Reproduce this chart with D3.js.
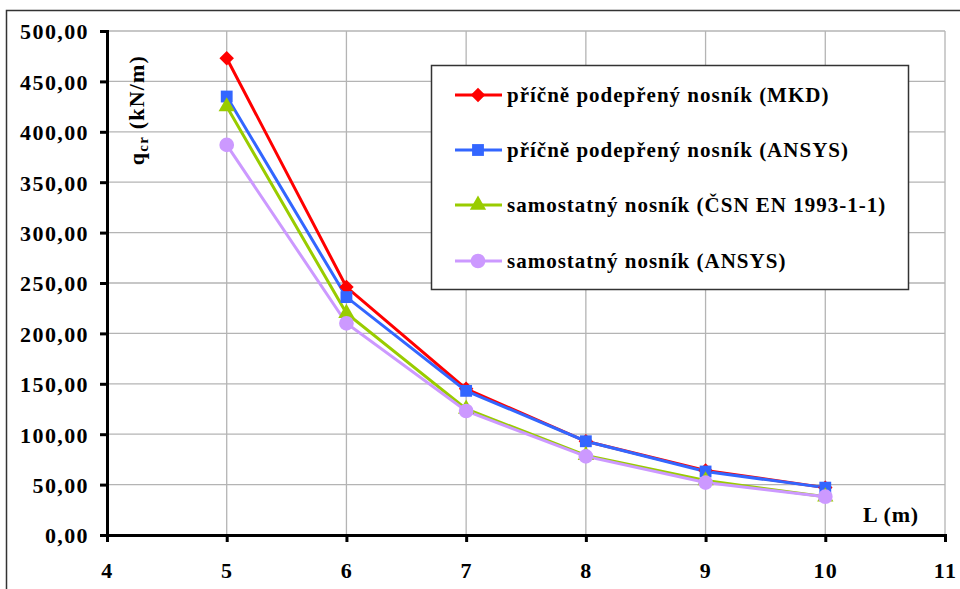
<!DOCTYPE html>
<html>
<head>
<meta charset="utf-8">
<script src="https://cdn.jsdelivr.net/npm/d3@7"></script>
<style>
  body { margin: 0; background: #fff; }
  svg { display: block; }
  svg text { font-family: "Times New Roman", Tinos, "Liberation Serif", "DejaVu Serif", serif; font-weight: bold; }
</style>
</head>
<body>
<svg id="chart" width="960" height="589"></svg>
<script>
// ======== data
const lengths = [5, 6, 7, 8, 9, 10];
const mkd = [473, 246, 145, 93, 64, 47];
const ansysSupported = [435, 236, 143, 93, 63, 47];
const csnEn = [425, 220, 125, 79, 54, 38];
const ansysFree = [387, 210, 123, 78, 52, 38];

const seriesNames = [
  "příčně podepřený nosník (MKD)",
  "příčně podepřený nosník (ANSYS)",
  "samostatný nosník (ČSN EN 1993-1-1)",
  "samostatný nosník (ANSYS)"
];
const seriesValues = [mkd, ansysSupported, csnEn, ansysFree];
const seriesColors = ["#ff0000", "#3366ff", "#99cc00", "#cc99ff"];
// diamond = square turned 45 deg
const seriesSymbols = [d3.symbolSquare, d3.symbolSquare, d3.symbolTriangle, d3.symbolCircle];
const symbolSizes = [105, 140, 115, 170];
const symbolRotate = [45, 0, 0, 0];

const xTicks = [4, 5, 6, 7, 8, 9, 10, 11];
const yTicks = [0, 50, 100, 150, 200, 250, 300, 350, 400, 450, 500];

// ======== layout
const svg = d3.select("#chart");
const plot = { left: 107, right: 945, top: 31, bottom: 535 };

const x = d3.scaleLinear().domain([4, 11]).range([plot.left, plot.right]);
const y = d3.scaleLinear().domain([0, 500]).range([plot.bottom, plot.top]);

// outer chart border
svg.append("rect")
  .attr("x", 6.5).attr("y", 10.5)
  .attr("width", 1000).attr("height", 1000)
  .attr("fill", "none")
  .attr("stroke", "#333")
  .attr("stroke-width", 1.5);

// ======== grid
const grid = svg.append("g").attr("stroke", "#b4b4b4").attr("stroke-width", 1.3);
grid.selectAll(".gx")
  .data(xTicks.slice(1))
  .join("line")
  .attr("x1", d => x(d)).attr("x2", d => x(d))
  .attr("y1", plot.top).attr("y2", plot.bottom);
grid.selectAll(".gy")
  .data(yTicks.slice(1))
  .join("line")
  .attr("x1", plot.left).attr("x2", plot.right)
  .attr("y1", d => y(d)).attr("y2", d => y(d));

// ======== axes
const fmt = d => d3.format(".2f")(d).replace(".", ",");

const yAxis = svg.append("g")
  .attr("transform", `translate(${plot.left},0)`)
  .call(d3.axisLeft(y).tickValues(yTicks).tickFormat(fmt).tickSize(7).tickPadding(11));

const xAxis = svg.append("g")
  .attr("transform", `translate(0,${plot.bottom})`)
  .call(d3.axisBottom(x).tickValues(xTicks).tickFormat(d3.format("d")).tickSize(7).tickPadding(20));

[yAxis, xAxis].forEach(ax => {
  ax.attr("font-family", null).attr("font-size", null);
  ax.select(".domain").attr("stroke", "#000").attr("stroke-width", 3);
  ax.selectAll(".tick line").attr("stroke", "#000").attr("stroke-width", 3);
  ax.selectAll("text")
    .attr("fill", "#000")
    .style("font-size", "22px")
    .style("letter-spacing", "1.4px");
});
yAxis.selectAll("text").attr("dy", "0.36em");

// axis titles
const yTitle = svg.append("text")
  .attr("transform", "translate(144,110) rotate(-90)")
  .attr("text-anchor", "middle")
  .style("font-size", "22px")
  .style("letter-spacing", "1.2px");
yTitle.append("tspan").text("q");
yTitle.append("tspan").attr("dy", 4).style("font-size", "15px").text("cr");
yTitle.append("tspan").attr("dy", -4).text(" (kN/m)");

svg.append("text")
  .attr("x", 863).attr("y", 522)
  .style("font-size", "22px")
  .style("letter-spacing", "0.8px")
  .text("L (m)");

// ======== series
const line = d3.line().x((d, i) => x(lengths[i])).y(d => y(d));

seriesValues.forEach((vals, k) => {
  svg.append("path")
    .datum(vals)
    .attr("d", line)
    .attr("fill", "none")
    .attr("stroke", seriesColors[k])
    .attr("stroke-width", 3);
});

seriesValues.forEach((vals, k) => {
  svg.append("g")
    .selectAll("path")
    .data(vals)
    .join("path")
    .attr("transform", (d, i) => `translate(${x(lengths[i])},${y(d)}) rotate(${symbolRotate[k]})`)
    .attr("d", d3.symbol().type(seriesSymbols[k]).size(symbolSizes[k]))
    .attr("fill", seriesColors[k]);
});

// ======== legend
const legend = svg.append("g");
legend.append("rect")
  .attr("x", 431.5).attr("y", 65.5)
  .attr("width", 477).attr("height", 224)
  .attr("fill", "#fff")
  .attr("stroke", "#333")
  .attr("stroke-width", 1.5);

const legendY = [95, 150, 205, 261];
const item = legend.selectAll(".item")
  .data(seriesNames)
  .join("g")
  .attr("transform", (d, i) => `translate(0,${legendY[i]})`);

item.append("line")
  .attr("x1", 455).attr("x2", 502)
  .attr("stroke", (d, i) => seriesColors[i])
  .attr("stroke-width", 3);
item.append("path")
  .attr("transform", (d, i) => `translate(478,0) rotate(${symbolRotate[i]})`)
  .attr("d", (d, i) => d3.symbol().type(seriesSymbols[i]).size(symbolSizes[i])())
  .attr("fill", (d, i) => seriesColors[i]);
item.append("text")
  .attr("x", 507)
  .attr("dy", "0.35em")
  .style("font-size", "21px")
  .style("letter-spacing", "1px")
  .text(d => d);
</script>
</body>
</html>
